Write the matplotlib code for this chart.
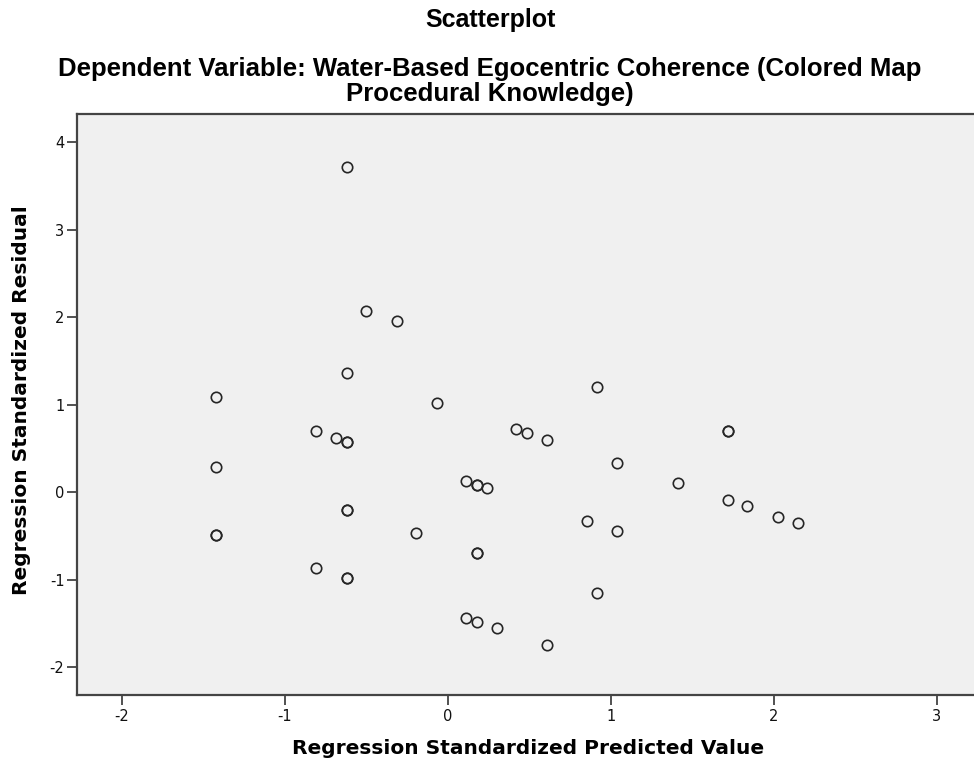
import matplotlib
matplotlib.use("Agg")
import matplotlib.pyplot as plt

plt.rcParams["axes.unicode_minus"] = False

# Regression residual plot
# repeated pairs are cases that sit on top of each other
pred_values = [-0.62, -0.502, -0.314, -0.62, -1.424, -0.068,
               -0.81, -0.686, -0.62, -0.62, -1.424,
               -0.62, -0.62, -1.424, -1.424, -0.195, -0.81, -0.62, -0.62,
               0.917, 0.418, 0.488, 0.609, 1.719, 1.719, 1.036, 1.41,
               0.112, 0.181, 0.181, 0.238, 1.719, 1.838, 2.024, 2.147,
               0.852, 1.036, 0.181, 0.181, 0.917,
               0.112, 0.181, 0.3, 0.609]
resid_values = [3.72, 2.075, 1.961, 1.367, 1.086, 1.024,
                0.70, 0.624, 0.578, 0.578, 0.293,
                -0.202, -0.202, -0.488, -0.488, -0.465, -0.869, -0.983, -0.983,
                1.20, 0.72, 0.674, 0.601, 0.70, 0.70, 0.338, 0.103,
                0.129, 0.083, 0.083, 0.053, -0.085, -0.157, -0.279, -0.347,
                -0.332, -0.446, -0.698, -0.698, -1.154,
                -1.44, -1.486, -1.554, -1.749]

x_ticks = [-2, -1, 0, 1, 2, 3]
y_ticks = [-2, -1, 0, 1, 2, 3, 4]

title = "Scatterplot"
subtitle = "Dependent Variable: Water-Based Egocentric Coherence (Colored Map\nProcedural Knowledge)"
x_label = "Regression Standardized Predicted Value"
y_label = "Regression Standardized Residual"

W, H = 974, 766
fig = plt.figure(figsize=(W / 100, H / 100), dpi=100)
ax = fig.add_axes([77 / W, 1 - 695 / H, 1 - 77 / W, (695 - 114) / H])
ax.set_facecolor("#f0f0f0")

ax.plot(pred_values, resid_values, linestyle="none", marker="o",
        markersize=7.5, markerfacecolor="none", markeredgecolor="#262626",
        markeredgewidth=1.2)

ax.set_xlim(-2.275, 3.228)
ax.set_ylim(-2.317, 4.32)
ax.set_xticks(x_ticks)
ax.set_yticks(y_ticks)
ax.tick_params(direction="out", length=7, width=1.2, color="#333333",
               labelsize=10.5, labelcolor="#111111")
ax.tick_params(axis="x", pad=3)
ax.tick_params(axis="y", pad=2)
for lbl in ax.get_xticklabels() + ax.get_yticklabels():
    lbl.set_family("DejaVu Sans")

for side in ["left", "bottom", "top"]:
    ax.spines[side].set_color("#444444")
    ax.spines[side].set_linewidth(1.6)
ax.spines["right"].set_visible(False)

# titles and axis labels
fig.text(490 / W, 1 - 27 / H, title, ha="center", va="baseline",
         family="Liberation Sans", weight="bold", fontsize=18)
fig.text(490 / W, 1 - 101 / H, subtitle, ha="center", va="baseline",
         multialignment="center", linespacing=1.05,
         family="Liberation Sans", weight="bold", fontsize=18.5)
fig.text(528 / W, 1 - 748 / H, x_label, ha="center", va="center",
         family="DejaVu Sans", weight="bold", fontsize=14.5)
fig.text(22 / W, 1 - 400 / H, y_label, ha="center", va="center",
         rotation=90, family="DejaVu Sans", weight="bold", fontsize=14.5)

fig.savefig("out.png", dpi=100)
